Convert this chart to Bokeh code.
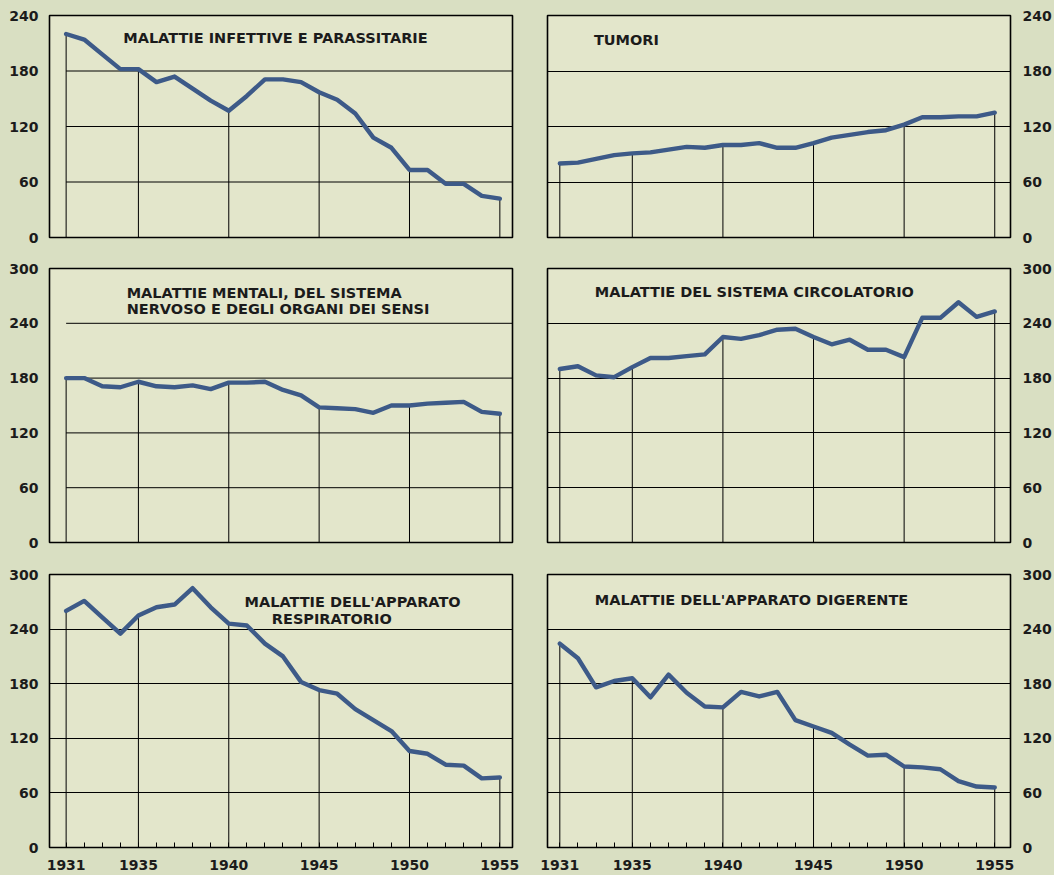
from bokeh.plotting import figure
from bokeh.layouts import column, row
from bokeh.models import FixedTicker, Label, Range1d
from bokeh.embed import file_html
from bokeh.resources import INLINE

# ---------------- data ----------------
years = list(range(1931, 1956))
drop_years = [1931, 1935, 1940, 1945, 1950, 1955]
year_labels = [1931, 1935, 1940, 1945, 1950, 1955]

infettive = [220, 214, 198, 182, 182, 168, 174, 161, 148, 137, 153, 171, 171,
             168, 157, 149, 134, 108, 97, 73, 73, 58, 58, 45, 42]
tumori = [80, 81, 85, 89, 91, 92, 95, 98, 97, 100, 100, 102, 97,
          97, 102, 108, 111, 114, 116, 122, 130, 130, 131, 131, 135]
mentali = [180, 180, 171, 170, 176, 171, 170, 172, 168, 175, 175, 176, 167,
           161, 148, 147, 146, 142, 150, 150, 152, 153, 154, 143, 141]
circolatorio = [190, 193, 183, 181, 192, 202, 202, 204, 206, 225, 223, 227, 233,
                234, 225, 217, 222, 211, 211, 203, 246, 246, 263, 247, 253]
respiratorio = [260, 271, 253, 235, 255, 264, 267, 285, 264, 246, 244, 224, 210,
                182, 173, 169, 152, 140, 128, 106, 103, 91, 90, 76, 77]
digerente = [224, 208, 176, 183, 186, 165, 190, 170, 155, 154, 171, 166, 171,
             140, 133, 126, 113, 101, 102, 89, 88, 86, 73, 67, 66]

titles = {
    "infettive": ["MALATTIE INFETTIVE E PARASSITARIE"],
    "tumori": ["TUMORI"],
    "mentali": ["MALATTIE MENTALI, DEL SISTEMA", "NERVOSO E DEGLI ORGANI DEI SENSI"],
    "circolatorio": ["MALATTIE DEL SISTEMA CIRCOLATORIO"],
    "respiratorio": ["MALATTIE DELL'APPARATO", "RESPIRATORIO"],
    "digerente": ["MALATTIE DELL'APPARATO DIGERENTE"],
}

# ---------------- style ----------------
FONT = "DejaVu Sans"
INK = "#1b1b1b"
LINE = "#3d5a88"
BG_IN = "#e3e6cb"
BG_OUT = "#d9dfc2"


def make_panel(values, lines, ymax, side, show_x, height, b_top, b_bottom,
               title_pos, title_align="left", grid_from_first=False):
    if side == "left":
        xr = Range1d(1930.08, 1955.7)
        bl, br = 49, 15
    else:
        xr = Range1d(1930.32, 1955.87)
        bl, br = 20, 44
    p = figure(width=527, height=height, x_range=xr, y_range=Range1d(0, ymax),
               y_axis_location=side, output_backend="svg", toolbar_location=None,
               min_border_left=bl, min_border_right=br,
               min_border_top=b_top, min_border_bottom=b_bottom)
    p.background_fill_color = BG_IN
    p.border_fill_color = BG_OUT
    p.outline_line_color = "black"
    p.outline_line_width = 1.6

    gl = list(range(60, ymax, 60))
    p.xgrid.visible = False
    if grid_from_first:
        p.ygrid.visible = False
        p.segment(x0=[years[0]] * len(gl), x1=[xr.end] * len(gl), y0=gl, y1=gl,
                  line_color="black", line_width=1)
    else:
        p.ygrid.ticker = FixedTicker(ticks=gl)
        p.ygrid.grid_line_color = "black"
        p.ygrid.grid_line_width = 1
        p.ygrid.grid_line_alpha = 1

    # y axis
    ya = p.yaxis[0]
    ya.ticker = FixedTicker(ticks=list(range(0, ymax + 1, 60)))
    ya.axis_line_color = None
    ya.major_tick_line_color = None
    ya.minor_tick_line_color = None
    ya.major_label_text_font = FONT
    ya.major_label_text_font_style = "bold"
    ya.major_label_text_font_size = "14px"
    ya.major_label_text_color = INK
    ya.major_label_standoff = 5 if side == "left" else 6

    # x axis
    xa = p.xaxis[0]
    if show_x:
        xa.ticker = FixedTicker(ticks=year_labels, minor_ticks=years)
        xa.axis_line_color = None
        xa.major_tick_line_color = None
        xa.minor_tick_line_color = "black"
        xa.minor_tick_in = 5
        xa.minor_tick_out = 0
        xa.major_label_text_font = FONT
        xa.major_label_text_font_style = "bold"
        xa.major_label_text_font_size = "14px"
        xa.major_label_text_color = INK
        xa.major_label_standoff = 6
    else:
        xa.visible = False

    # drop lines at 5-year marks
    dv = [values[years.index(y)] for y in drop_years]
    p.segment(x0=drop_years, x1=drop_years, y0=[0] * len(drop_years), y1=dv,
              line_color="black", line_width=1)

    p.line(years, values, line_color=LINE, line_width=4.4, line_join="round",
           line_cap="round")

    for (tx, ty), txt in zip(title_pos, lines):
        p.add_layout(Label(x=tx, y=ty, text=txt, text_font=FONT,
                           text_font_style="bold", text_font_size="14.5px",
                           text_color=INK, text_align=title_align,
                           text_baseline="middle"))
    return p


p1 = make_panel(infettive, titles["infettive"], 240, "left", False, 250, 15, 13,
                [(1934.16, 215.5)], grid_from_first=True)
p2 = make_panel(tumori, titles["tumori"], 240, "right", False, 250, 15, 13,
                [(1932.88, 213)])
p3 = make_panel(mentali, titles["mentali"], 300, "left", False, 300, 18, 8,
                [(1934.35, 273.5), (1934.35, 256)], grid_from_first=True)
p4 = make_panel(circolatorio, titles["circolatorio"], 300, "right", False, 300, 18, 8,
                [(1932.93, 274)])
p5 = make_panel(respiratorio, titles["respiratorio"], 300, "left", True, 325, 24, 28,
                [(1946.85, 269.6), (1945.7, 251.3)], title_align="center")
p6 = make_panel(digerente, titles["digerente"], 300, "right", True, 325, 24, 28,
                [(1932.93, 272)])

bg = {"background-color": BG_OUT}
layout = column(row(p1, p2, styles=bg), row(p3, p4, styles=bg),
                row(p5, p6, styles=bg), styles=bg)

open("out.html", "w").write(file_html(layout, INLINE))
